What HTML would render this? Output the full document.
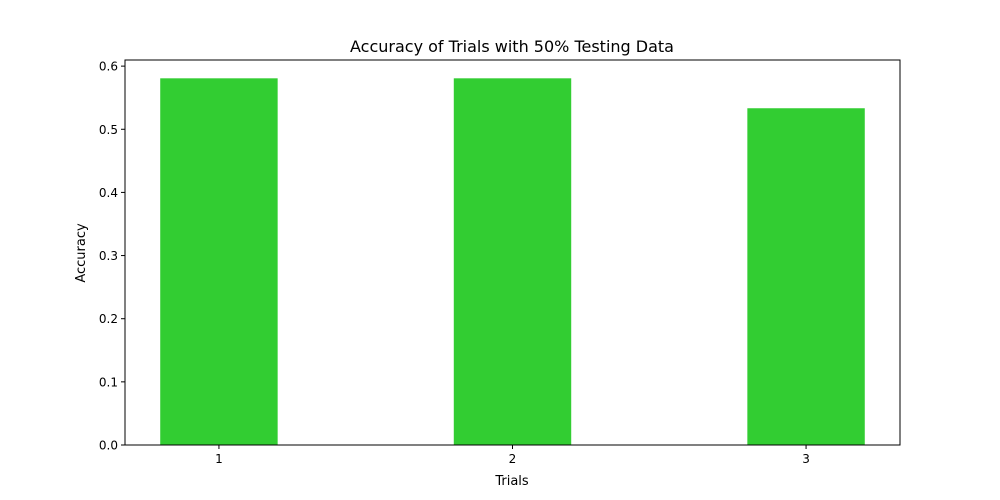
<!DOCTYPE html>
<html><head><meta charset="utf-8"><style>
html,body{margin:0;padding:0;background:#fff;}
svg{display:block;font-family:"DejaVu Sans","Liberation Sans",sans-serif;}
</style></head><body>
<svg id="chart" width="1000" height="500">
<text x="512" y="52" font-size="16" text-anchor="middle">Accuracy of Trials with 50% Testing Data</text>
<text x="512" y="485" font-size="13" text-anchor="middle">Trials</text>
<text transform="translate(85,253) rotate(-90)" font-size="13" text-anchor="middle">Accuracy</text>
<g id="bars"></g><g id="ticks"></g>
<rect x="125" y="60" width="775" height="385" fill="none" stroke="#000" stroke-width="1"/>
</svg>
<script>
const categories = [1, 2, 3];
const accuracy = [0.5807, 0.5807, 0.5333];
const yTicks = [0, 0.1, 0.2, 0.3, 0.4, 0.5, 0.6];
const yTickLabels = ["0.0", "0.1", "0.2", "0.3", "0.4", "0.5", "0.6"];

const L = 125, R = 900, T = 60, B = 445;
const xMin = 0.68, xMax = 3.32, yMin = 0, yMax = 0.6097;
const xs = v => L + (v - xMin) / (xMax - xMin) * (R - L);
const ys = v => B - (v - yMin) / (yMax - yMin) * (B - T);
const NS = "http://www.w3.org/2000/svg";
const bars = document.getElementById('bars');
const ticks = document.getElementById('ticks');

categories.forEach((c, i) => {
  const r = document.createElementNS(NS, 'rect');
  const x0 = xs(c - 0.2), x1 = xs(c + 0.2);
  r.setAttribute('x', x0);
  r.setAttribute('width', x1 - x0);
  r.setAttribute('y', ys(accuracy[i]));
  r.setAttribute('height', ys(0) - ys(accuracy[i]));
  r.setAttribute('fill', '#32CD32');
  
  
  bars.appendChild(r);

  const t = document.createElementNS(NS, 'line');
  t.setAttribute('x1', xs(c)); t.setAttribute('x2', xs(c));
  t.setAttribute('y1', B); t.setAttribute('y2', B + 4);
  t.setAttribute('stroke', '#000');
  
  
  ticks.appendChild(t);
  const lb = document.createElementNS(NS, 'text');
  lb.setAttribute('x', xs(c)); lb.setAttribute('y', B + 18);
  lb.setAttribute('font-size', '12'); lb.setAttribute('text-anchor', 'middle');
  lb.textContent = c;
  
  
  ticks.appendChild(lb);
});

yTicks.forEach((v, i) => {
  const t = document.createElementNS(NS, 'line');
  t.setAttribute('x1', L - 4); t.setAttribute('x2', L);
  t.setAttribute('y1', ys(v)); t.setAttribute('y2', ys(v));
  t.setAttribute('stroke', '#000');
  
  
  ticks.appendChild(t);
  const lb = document.createElementNS(NS, 'text');
  lb.setAttribute('x', L - 7); lb.setAttribute('y', ys(v) + 4.5);
  lb.setAttribute('font-size', '12'); lb.setAttribute('text-anchor', 'end');
  lb.textContent = yTickLabels[i];
  
  
  ticks.appendChild(lb);
});
</script>
</body></html>
